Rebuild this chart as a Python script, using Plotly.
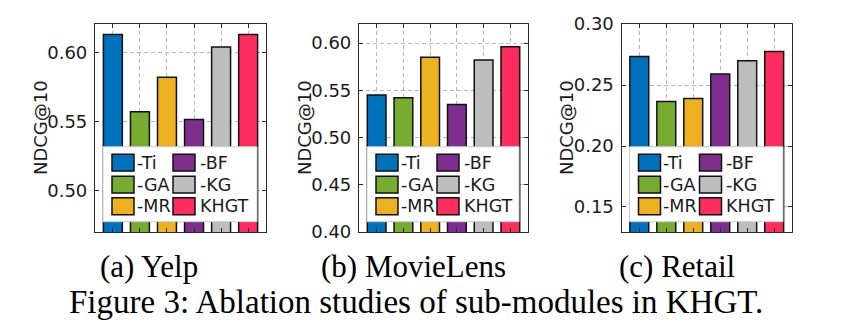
import plotly.graph_objects as go

# ---------------- data ----------------
variants = ["-Ti", "-GA", "-MR", "-BF", "-KG", "KHGT"]
colors = ["#0072BD", "#77AC30", "#EDB120", "#7E2F8E", "#BDBDBD", "#FF2D5F"]

yelp_ndcg = [0.613, 0.557, 0.582, 0.5515, 0.604, 0.613]
movielens_ndcg = [0.545, 0.542, 0.585, 0.535, 0.582, 0.596]
retail_ndcg = [0.2735, 0.2365, 0.239, 0.259, 0.270, 0.2775]

panel_titles = ["(a) Yelp", "(b) MovieLens", "(c) Retail"]
y_ranges = [[0.47, 0.6205], [0.40, 0.62], [0.1295, 0.30]]
y_ticks = [[0.50, 0.55, 0.60], [0.40, 0.45, 0.50, 0.55, 0.60],
           [0.15, 0.20, 0.25, 0.30]]
y_title = "NDCG@10"
caption = "Figure 3: Ablation studies of sub-modules in KHGT."

# ---------------- layout geometry (pixels) ----------------
W, H = 844, 330
panel_x = [(95, 266), (359, 528), (621.5, 792)]
panel_y = (14, 236)  # top, bottom
ytitle_x = [40, 304, 566]
sub_x = [149, 413, 677]

series = [yelp_ndcg, movielens_ndcg, retail_ndcg]

fig = go.Figure()

sans = "DejaVu Sans, Arial, sans-serif"
serif = "Liberation Serif, Times New Roman, serif"
ink = "#1a1a1a"

shapes = []
annotations = []

for i, vals in enumerate(series):
    xa = "x" if i == 0 else f"x{i+1}"
    ya = "y" if i == 0 else f"y{i+1}"
    for name, v, c in zip(variants, vals, colors):
        fig.add_trace(go.Bar(
            x=[name], y=[v], name=name, showlegend=False,
            marker=dict(color=c, line=dict(color="#111111", width=1.5)),
            width=0.7, xaxis=xa, yaxis=ya,
        ))
    x0, x1 = panel_x[i]
    pw = x1 - x0
    ph = panel_y[1] - panel_y[0]
    dom_x = [x0 / W, x1 / W]
    dom_y = [1 - panel_y[1] / H, 1 - panel_y[0] / H]
    axis_common = dict(
        showline=True, linecolor="#2a2a2a", linewidth=1.2, mirror="allticks",
        ticks="inside", ticklen=4, tickwidth=1, tickcolor="#2a2a2a",
        showgrid=True, gridcolor="#b8b8b8", gridwidth=1, griddash="4px,3px",
        zeroline=False,
    )
    fig.layout[("xaxis" if i == 0 else f"xaxis{i+1}")] = dict(
        domain=dom_x, anchor=ya, type="category",
        categoryorder="array", categoryarray=variants,
        range=[-0.66, 5.66], showticklabels=False, tickvals=variants,
        **axis_common,
    )
    fig.layout[("yaxis" if i == 0 else f"yaxis{i+1}")] = dict(
        domain=dom_y, anchor=xa, range=y_ranges[i], tickvals=y_ticks[i],
        tickformat=".2f", tickfont=dict(family=sans, size=18, color=ink),
        ticklabelstandoff=3,
        **axis_common,
    )

    # legend drawn inside the axes (two columns, three rows)
    xd = xa + " domain"
    yd = ya + " domain"
    fx = lambda p: p / pw
    fy = lambda p: p / ph
    shapes.append(dict(type="rect", xref=xd, yref=yd,
                       x0=fx(8), x1=fx(pw - 9), y0=fy(11), y1=fy(91),
                       fillcolor="white", line=dict(color="#cccccc", width=1),
                       layer="above"))
    row_c = [74, 50.5, 27.5]
    col_sw = [17, 78]
    col_tx = [40.5, 103.5]
    for k, (name, c) in enumerate(zip(variants, colors)):
        col, row = k // 3, k % 3
        yc = row_c[row]
        shapes.append(dict(type="rect", xref=xd, yref=yd,
                           x0=fx(col_sw[col]), x1=fx(col_sw[col] + 22),
                           y0=fy(yc - 9), y1=fy(yc + 9),
                           fillcolor=c, line=dict(color="#111111", width=1.5),
                           layer="above"))
        annotations.append(dict(xref=xd, yref=yd, x=fx(col_tx[col]), y=fy(yc),
                                text=name, showarrow=False, xanchor="left",
                                yanchor="middle", borderpad=0,
                                font=dict(family=sans, size=17.5, color=ink)))

    # y-axis title
    annotations.append(dict(xref="paper", yref="paper", x=ytitle_x[i] / W,
                            y=1 - (panel_y[0] + panel_y[1]) / 2 / H,
                            text=y_title, textangle=-90, showarrow=False,
                            xanchor="center", yanchor="middle",
                            font=dict(family=sans, size=18, color=ink)))
    # sub-caption
    annotations.append(dict(xref="paper", yref="paper", x=sub_x[i] / W,
                            y=1 - 273 / H, text=panel_titles[i],
                            showarrow=False, xanchor="center", yanchor="middle",
                            borderpad=0,
                            font=dict(family=serif, size=31, color="black")))

annotations.append(dict(xref="paper", yref="paper", x=416 / W, y=1 - 311 / H,
                        text=caption, showarrow=False, xanchor="center",
                        yanchor="middle", borderpad=0,
                        font=dict(family=serif, size=33, color="black")))

fig.update_layout(
    width=W, height=H, margin=dict(l=0, r=0, t=0, b=0),
    paper_bgcolor="white", plot_bgcolor="white",
    shapes=shapes, annotations=annotations, showlegend=False,
    bargap=0.3,
)

fig.write_html("out.html")
